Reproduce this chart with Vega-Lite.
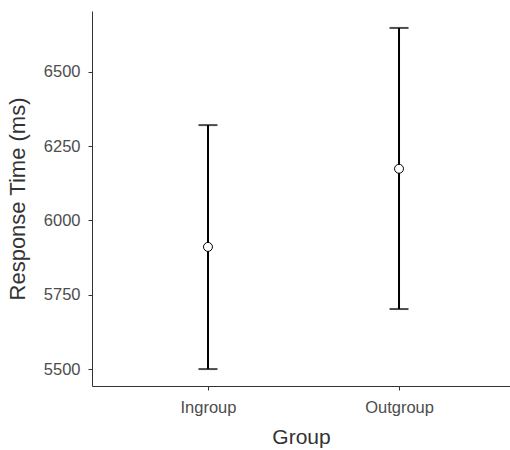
{
  "$schema": "https://vega.github.io/schema/vega-lite/v6.json",
  "autosize": "none",
  "width": 418,
  "height": 375,
  "padding": {"left": 92, "top": 11, "right": 0, "bottom": 64},
  "background": "white",
  "config": {
    "view": {"stroke": null},
    "font": "Liberation Sans",
    "axis": {
      "grid": false,
      "domainColor": "#333333",
      "tickColor": "#333333",
      "domainWidth": 1,
      "tickWidth": 1,
      "tickSize": 4,
      "labelFont": "Liberation Sans",
      "labelFontSize": 16.5,
      "labelColor": "#4d4d4d",
      "titleFont": "Liberation Sans",
      "titleFontSize": 21,
      "titleFontWeight": "normal",
      "titleColor": "#333333"
    }
  },
  "data": {
    "values": [
      {"Group": "Ingroup", "mean": 5911, "lower": 5500, "upper": 6321},
      {"Group": "Outgroup", "mean": 6174, "lower": 5702, "upper": 6648}
    ]
  },
  "encoding": {
    "x": {
      "field": "Group",
      "type": "nominal",
      "scale": {"type": "point", "padding": 0.594, "align": 0.511},
      "axis": {"labelAngle": 0, "labelPadding": 9, "titlePadding": 11, "title": "Group"}
    }
  },
  "layer": [
    {
      "mark": {"type": "rule", "color": "black", "strokeWidth": 2},
      "encoding": {
        "y": {
          "field": "lower",
          "type": "quantitative",
          "scale": {"domain": [5443, 6705], "nice": false, "zero": false},
          "axis": {"values": [5500, 5750, 6000, 6250, 6500], "format": "d", "labelPadding": 8, "titlePadding": 14, "titleFontSize": 22, "title": "Response Time (ms)"}
        },
        "y2": {"field": "upper"}
      }
    },
    {
      "mark": {"type": "tick", "color": "black", "thickness": 2, "size": 19},
      "encoding": {"y": {"field": "lower", "type": "quantitative"}}
    },
    {
      "mark": {"type": "tick", "color": "black", "thickness": 2, "size": 19},
      "encoding": {"y": {"field": "upper", "type": "quantitative"}}
    },
    {
      "mark": {"type": "point", "shape": "circle", "filled": true, "fill": "white", "stroke": "black", "strokeWidth": 1, "size": 80, "opacity": 1},
      "encoding": {"y": {"field": "mean", "type": "quantitative"}}
    }
  ]
}
